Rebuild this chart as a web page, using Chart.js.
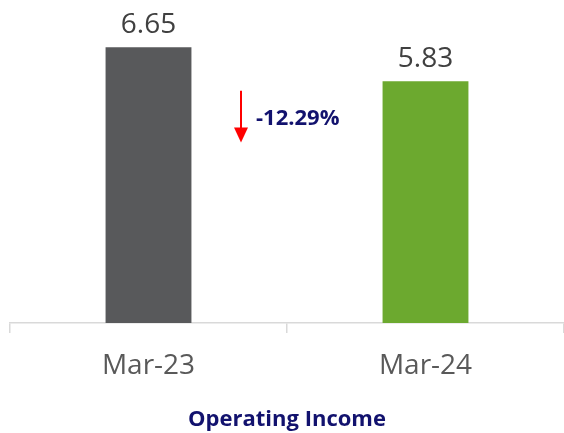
<!DOCTYPE html>
<html>
<head>
<meta charset="utf-8">
<script src="https://cdn.jsdelivr.net/npm/chart.js@4"></script>
<style>
  html, body { margin: 0; padding: 0; background: #fff; }
  #wrap { width: 564px; height: 433px; }
</style>
</head>
<body>
<div id="wrap"><canvas id="chart"></canvas></div>
<script>
// ── Data ──────────────────────────────────────────────────────────────────────
const categories = ['Mar-23', 'Mar-24']
const values = [6.65, 5.83]
const barColors = ['#58595B', '#6CA92F']
const changeLabel = '-12.29%'
const chartTitle = 'Operating Income'

const FONT = "'Open Sans', 'Noto Sans', sans-serif"
const NAVY = '#12126E'

// value labels above each bar
const valueLabels = {
  id: 'valueLabels',
  afterDatasetsDraw(chart) {
    const ctx = chart.ctx
    const meta = chart.getDatasetMeta(0)
    ctx.save()
    ctx.font = `28px ${FONT}`
    ctx.fillStyle = '#404040'
    ctx.textAlign = 'center'
    ctx.textBaseline = 'bottom'
    meta.data.forEach((bar, i) => {
      ctx.fillText(values[i].toFixed(2), bar.x, bar.y - 8)
    })
    ctx.restore()
  },
}

// red down arrow + percentage change between the bars
const changeArrow = {
  id: 'changeArrow',
  afterDatasetsDraw(chart) {
    const ctx = chart.ctx
    const x = chart.scales.x
    const y = chart.scales.y
    const mid = (x.getPixelForValue(0) + x.getPixelForValue(1)) / 2
    const ax = mid - 46
    const top = y.getPixelForValue(5.6)
    const bot = y.getPixelForValue(4.35)
    ctx.save()
    ctx.strokeStyle = '#FF0000'
    ctx.fillStyle = '#FF0000'
    ctx.lineWidth = 2
    ctx.beginPath()
    ctx.moveTo(ax, top)
    ctx.lineTo(ax, bot - 14)
    ctx.stroke()
    ctx.beginPath()
    ctx.moveTo(ax - 7, bot - 15)
    ctx.lineTo(ax + 7, bot - 15)
    ctx.lineTo(ax, bot)
    ctx.closePath()
    ctx.fill()
    ctx.font = `bold 22px ${FONT}`
    ctx.fillStyle = NAVY
    ctx.textAlign = 'left'
    ctx.textBaseline = 'middle'
    ctx.fillText(changeLabel, ax + 15, (top + bot) / 2 + 2)
    ctx.restore()
  },
}

new Chart(document.getElementById('chart').getContext('2d'), {
  type: 'bar',
  data: {
    labels: categories,
    datasets: [{
      data: values,
      backgroundColor: barColors,
      borderWidth: 0,
      categoryPercentage: 1,
      barPercentage: 0.31,
    }],
  },
  options: {
    responsive: true,
    maintainAspectRatio: false,
    animation: false,
    layout: { padding: { left: 10, right: 0, top: 12, bottom: 0 } },
    plugins: {
      legend: { display: false },
      tooltip: { enabled: false },
    },
    scales: {
      x: {
        grid: {
          drawOnChartArea: false,
          drawTicks: true,
          tickLength: 10,
          color: '#D9D9D9',
          lineWidth: 1.5,
        },
        border: { color: '#D9D9D9', width: 1.5 },
        ticks: {
          color: '#595959',
          font: { family: FONT, size: 28 },
          padding: 16,
        },
        title: {
          display: true,
          text: chartTitle,
          color: NAVY,
          font: { family: FONT, size: 22, weight: 'bold' },
          padding: { top: 8, bottom: 0 },
        },
      },
      y: {
        display: false,
        min: 0,
        max: 7.5,
      },
    },
  },
  plugins: [valueLabels, changeArrow],
})
</script>
</body>
</html>
